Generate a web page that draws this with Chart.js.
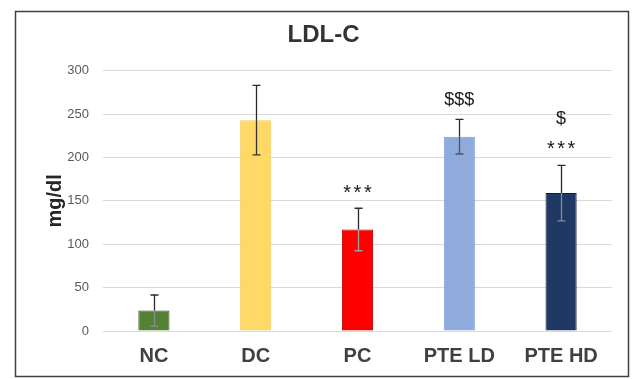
<!DOCTYPE html>
<html><head><meta charset="utf-8">
<script src="https://cdn.jsdelivr.net/npm/chart.js@4/dist/chart.umd.min.js"></script>
<style>html,body{margin:0;padding:0;background:#fff}#wrap{width:632px;height:379px;position:relative}</style>
</head><body><div id="wrap"><canvas id="c" width="632" height="379"></canvas></div>
<script>
// ---- data ----
const chartTitle = 'LDL-C';
const categories = ['NC', 'DC', 'PC', 'PTE LD', 'PTE HD'];
const meanValues = [23.5, 243, 117, 224, 159];
const errorValues = [18, 40, 24.5, 20, 32];
const yTickMin = 0, yTickMax = 300, yTickStep = 50;
const annotationCategory = ['PC', 'PTE LD', 'PTE HD', 'PTE HD'];
const annotationText = ['***', '$$$', '$', '***'];
const annotationValue = [160, 266, 244, 210];

// ---- styles ----
const fillColors = ['#548235', '#FFD966', '#FF0000', '#8FAADC', '#1F3864'];
const edgeColors = ['#375623', '#F0C85A', '#C00000', '#7F9CD2', '#111D36'];
const errInnerColors = ['#8a8a8a', '#333333', '#a0a0a0', '#555555', '#8a8a8a'];
const FONT = "'Liberation Sans', Arial, sans-serif";

const frame = {
  id: 'frame',
  beforeDraw(chart) {
    const ctx = chart.ctx;
    ctx.save();
    ctx.fillStyle = '#fff';
    ctx.fillRect(0, 0, chart.width, chart.height);
    ctx.strokeStyle = '#404040';
    ctx.lineWidth = 1.5;
    ctx.strokeRect(15.5, 11.5, 613, 365);
    ctx.fillStyle = '#333333';
    ctx.font = 'bold 24px ' + FONT;
    ctx.textAlign = 'center';
    ctx.textBaseline = 'middle';
    ctx.fillText(chartTitle, 323.5, 35);
    ctx.restore();
  }
};

const errorBars = {
  id: 'errorBars',
  afterDatasetsDraw(chart) {
    const ctx = chart.ctx, xs = chart.scales.x, ys = chart.scales.y;
    ctx.save();
    ctx.lineWidth = 1.3;
    meanValues.forEach((m, i) => {
      const x = Math.round(xs.getPixelForValue(i)) + 0.5;
      const yt = ys.getPixelForValue(m + errorValues[i]);
      const yb = ys.getPixelForValue(m - errorValues[i]);
      const ym = ys.getPixelForValue(m);
      ctx.strokeStyle = '#2a2a2a';
      ctx.beginPath();
      ctx.moveTo(x, yt); ctx.lineTo(x, ym);
      ctx.moveTo(x - 4, yt); ctx.lineTo(x + 4, yt);
      ctx.stroke();
      ctx.strokeStyle = errInnerColors[i];
      ctx.beginPath();
      ctx.moveTo(x, ym); ctx.lineTo(x, yb);
      ctx.moveTo(x - 4, yb); ctx.lineTo(x + 4, yb);
      ctx.stroke();
    });
    ctx.restore();
  }
};

const annotations = {
  id: 'annotations',
  afterDatasetsDraw(chart) {
    const ctx = chart.ctx, xs = chart.scales.x, ys = chart.scales.y;
    ctx.save();
    ctx.fillStyle = '#1a1a1a';
    ctx.textAlign = 'center';
    ctx.textBaseline = 'middle';
    annotationText.forEach((t, i) => {
      const x = xs.getPixelForValue(categories.indexOf(annotationCategory[i]));
      const y = ys.getPixelForValue(annotationValue[i]);
      if (t.indexOf('*') >= 0) {
        ctx.font = '20px ' + FONT;
        ctx.letterSpacing = '2.5px';
        ctx.fillText(t, x + 1.25, y + 1);
      } else {
        ctx.font = '18px ' + FONT;
        ctx.letterSpacing = '0px';
        ctx.fillText(t, x, y);
      }
    });
    ctx.restore();
  }
};

new Chart(document.getElementById('c'), {
  type: 'bar',
  data: {
    labels: categories,
    datasets: [{
      data: meanValues,
      backgroundColor: fillColors,
      borderColor: edgeColors,
      borderWidth: 1,
      categoryPercentage: 0.6,
      barPercentage: 0.51
    }]
  },
  options: {
    responsive: false,
    animation: false,
    devicePixelRatio: 1,
    layout: { padding: { left: 0, right: 20, top: 70.7, bottom: 0 } },
    plugins: {
      legend: { display: false },
      tooltip: { enabled: false },
      title: { display: false }
    },
    scales: {
      x: {
        grid: { display: false, drawTicks: false },
        border: { display: false },
        ticks: { color: '#404040', padding: 13, font: { family: FONT, size: 20, weight: 'bold', lineHeight: 1.2 } },
        afterFit(s) { s.height = 48; }
      },
      y: {
        min: yTickMin, max: yTickMax,
        ticks: { stepSize: yTickStep, color: '#595959', padding: 14, font: { family: FONT, size: 13 } },
        grid: { color: '#D9D9D9', lineWidth: 1, drawTicks: false },
        border: { display: false },
        title: {
          display: true, text: 'mg/dl', color: '#262626',
          font: { family: FONT, size: 20, weight: 'bold', lineHeight: 1.2 },
          padding: { top: 43, bottom: 0 }
        },
        afterFit(s) { s.width = 103; }
      }
    }
  },
  plugins: [frame, errorBars, annotations]
});
</script></body></html>
